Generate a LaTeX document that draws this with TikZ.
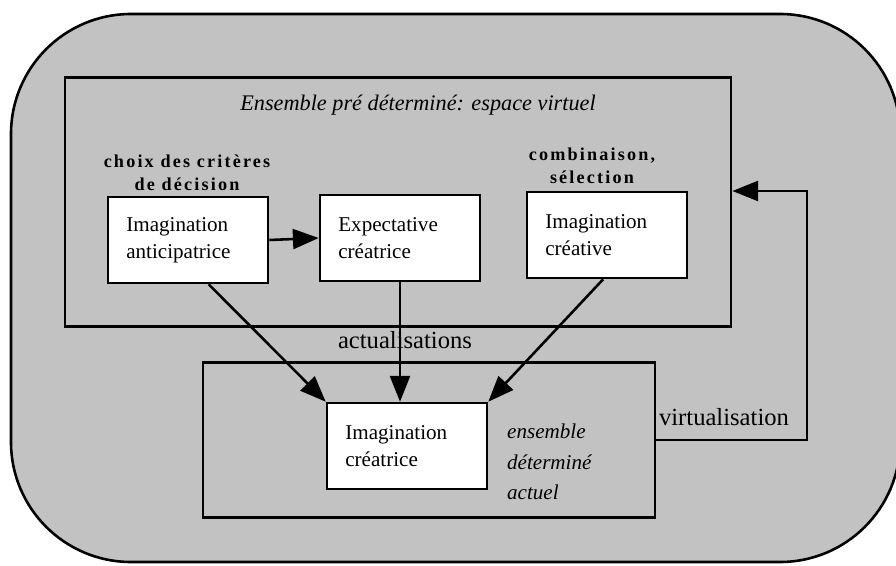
\documentclass[tikz,border=0pt]{standalone}
\usepackage{fontspec}
\setmainfont{Liberation Serif}
\newfontfamily\espace[LetterSpace=12]{Liberation Serif}
\usetikzlibrary{positioning}
\usetikzlibrary{arrows.meta}

\tikzset{
	cadre/.style={draw, line width=2.2pt},
	boite/.style={draw, fill=white, line width=2.2pt, minimum width=4.8cm, minimum height=2.58cm, text width=3.7cm, inner xsep=0.5cm, align=left, font=\fontsize{18}{23}\selectfont},
	critere/.style={align=center, font=\espace\bfseries\fontsize{15.5}{19.5}\selectfont},
	gros/.style={font=\fontsize{21}{25}\selectfont},
	manuscrit/.style={font=\itshape\fontsize{18}{26}\selectfont},
	fleche/.style={-{Triangle[length=22pt,width=17pt]}, line width=2.2pt}
}

\begin{document}
\begin{tikzpicture}[x=0.03cm, y=-0.03cm]
			\useasboundingbox (0,0) rectangle (896,566);

			% fond gris arrondi
			\draw[line width=2.2pt, fill=black!24, rounded corners=3.6cm] (11,14) rectangle (900,562);

			% les deux ensembles
			\node[cadre, minimum width=19.98cm, minimum height=7.47cm] (virtuel) at (398,202) {};
			\node[cadre, minimum width=13.56cm, minimum height=4.65cm] (actuel) at (429,440) {};

			% les boites
			\node[boite] (anticip) at (188,240) {Imagination\\anticipatrice};
			\node[boite] (expect) at (400,238) {Expectative\\créatrice};
			\node[boite] (creative) at (607,235) {Imagination\\créative};
			\node[boite] (creatrice) at (407,446) {Imagination\\créatrice};

			% les textes
			\node[manuscrit, font=\itshape\fontsize{19}{23}\selectfont] (titre) at (418,105) {Ensemble pré déterminé: espace virtuel};
			\node[critere] (choix) at (187,173) {choix des critères\\de décision};
			\node[critere] (combi) at (592,166) {combinaison,\\sélection};
			\node[gros] (actu) at (405,340) {actualisations};
			\node[gros] (virt) at (724,417) {virtualisation};
			\node[manuscrit, align=left, anchor=west] (ensact) at (503,462) {ensemble\\déterminé\\actuel};

			% les fleches
			\draw[fleche] (anticip.east) -- (expect.west);
			\draw[fleche] (anticip.295) -- (creatrice.north west);
			\draw[fleche] (expect.south) -- (expect.south |- creatrice.north);
			\draw[fleche] (creative.265) -- (creatrice.north east);

			% retour
			\coordinate (retour) at (807,191);
			\draw[fleche] (actuel.east) -| (retour) -- (retour -| virtuel.east);
\end{tikzpicture}
\end{document}
